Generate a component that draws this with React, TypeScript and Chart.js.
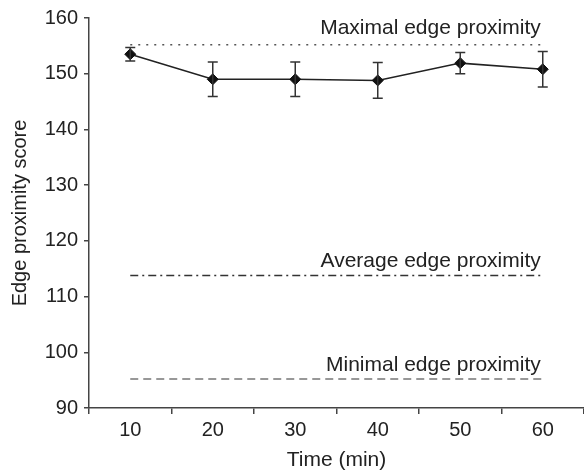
import React, { useEffect, useRef } from "react";
import { Chart, registerables } from "chart.js";

Chart.register(...registerables);

const categories = ["10", "20", "30", "40", "50", "60"];
const meanScores = [153.5, 149.0, 149.0, 148.8, 151.9, 150.8];
const errorSizes = [1.2, 3.1, 3.1, 3.2, 1.9, 3.2];
const maxLevel = 155.2;
const avgLevel = 113.8;
const minLevel = 95.2;
const referenceLabels = ["Maximal edge proximity", "Average edge proximity", "Minimal edge proximity"];
const referenceLevels = [maxLevel, avgLevel, minLevel];
const yMin = 90;
const yMax = 160;
const yStep = 10;

const FONT = "'Liberation Sans', Arial, Helvetica, sans-serif";

const errorBarPlugin = {
  id: "errorBars",
  afterDatasetsDraw(chart: any) {
    const meta = chart.getDatasetMeta(0);
    const yScale = chart.scales.y;
    const ctx = chart.ctx;
    ctx.save();
    ctx.strokeStyle = "#333";
    ctx.lineWidth = 1.5;
    meta.data.forEach((pt: any, i: number) => {
      const x = pt.x;
      const top = yScale.getPixelForValue(meanScores[i] + errorSizes[i]);
      const bot = yScale.getPixelForValue(meanScores[i] - errorSizes[i]);
      ctx.beginPath();
      ctx.moveTo(x, top);
      ctx.lineTo(x, bot);
      ctx.moveTo(x - 5, top);
      ctx.lineTo(x + 5, top);
      ctx.moveTo(x - 5, bot);
      ctx.lineTo(x + 5, bot);
      ctx.stroke();
    });
    ctx.restore();
  },
};

const refLabelPlugin = {
  id: "refLabels",
  afterDraw(chart: any) {
    const ctx = chart.ctx;
    const xScale = chart.scales.x;
    const yScale = chart.scales.y;
    const xRight = xScale.getPixelForValue(categories.length - 1) - 2;
    ctx.save();
    ctx.font = `21px ${FONT}`;
    ctx.fillStyle = "#222";
    ctx.textAlign = "right";
    ctx.textBaseline = "alphabetic";
    referenceLabels.forEach((label, i) => {
      const y = yScale.getPixelForValue(referenceLevels[i]);
      ctx.fillText(label, xRight, y - (i === 0 ? 11 : 8));
    });
    ctx.restore();
  },
};

export default function App() {
  const ref = useRef<HTMLCanvasElement | null>(null);
  useEffect(() => {
    if (!ref.current) return;
    const chart = new Chart(ref.current, {
      type: "line",
      data: {
        labels: categories,
        datasets: [
          {
            label: "Edge proximity",
            data: meanScores,
            borderColor: "#222",
            backgroundColor: "#111",
            borderWidth: 1.5,
            pointStyle: "rectRot",
            pointRadius: 5.5,
            pointBackgroundColor: "#111",
            pointBorderColor: "#111",
            pointBorderWidth: 1,
            tension: 0,
          },
          {
            label: "Maximal",
            data: categories.map(() => maxLevel),
            borderColor: "#555",
            borderWidth: 1.5,
            borderDash: [2, 6],
            pointRadius: 0,
          },
          {
            label: "Average",
            data: categories.map(() => avgLevel),
            borderColor: "#333",
            borderWidth: 1.5,
            borderDash: [8, 4, 2, 4],
            pointRadius: 0,
          },
          {
            label: "Minimal",
            data: categories.map(() => minLevel),
            borderColor: "#777",
            borderWidth: 1.5,
            borderDash: [8, 5],
            pointRadius: 0,
          },
        ],
      },
      options: {
        responsive: false,
        animation: false,
        layout: { autoPadding: false, padding: { top: 15, right: 0, bottom: 0, left: 0 } },
        plugins: {
          legend: { display: false },
          tooltip: { enabled: false },
        },
        scales: {
          x: {
            type: "category",
            offset: true,
            afterFit: (scale: any) => {
              scale.height = 68;
            },
            grid: {
              offset: true,
              drawOnChartArea: false,
              drawTicks: true,
              tickLength: 6,
              color: "#444",
              lineWidth: 1.5,
            },
            border: { display: true, color: "#444", width: 1.5 },
            ticks: {
              color: "#222",
              font: { family: FONT, size: 20 },
              padding: 4,
              maxRotation: 0,
            },
            title: {
              display: true,
              text: "Time (min)",
              color: "#222",
              font: { family: FONT, size: 21 },
              padding: { top: 0, bottom: 3 },
            },
          },
          y: {
            min: yMin,
            max: yMax,
            afterFit: (scale: any) => {
              scale.width = 89;
            },
            grid: {
              drawOnChartArea: false,
              drawTicks: true,
              tickLength: 5,
              color: "#444",
              lineWidth: 1.5,
            },
            border: { display: true, color: "#444", width: 1.5 },
            ticks: {
              stepSize: yStep,
              color: "#222",
              font: { family: FONT, size: 20 },
              padding: 6,
            },
            title: {
              display: true,
              text: "Edge proximity score",
              color: "#222",
              font: { family: FONT, size: 20 },
              padding: { top: 8, bottom: 0 },
            },
          },
        },
      },
      plugins: [errorBarPlugin, refLabelPlugin],
    });
    return () => chart.destroy();
  }, []);
  return (
    <div style={{ position: "absolute", left: 0, top: 0, width: 584, height: 476, background: "#fff" }}>
      <canvas ref={ref} width={584} height={476} />
    </div>
  );
}
